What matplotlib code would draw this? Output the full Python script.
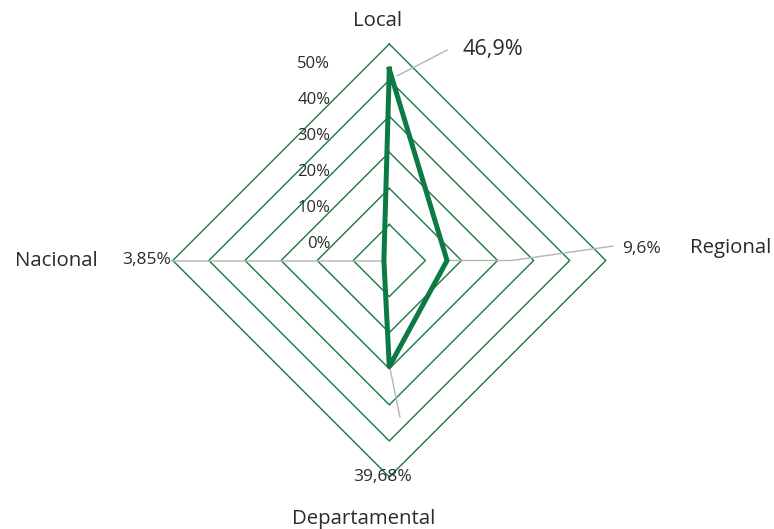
import numpy as np
import matplotlib
matplotlib.use("Agg")
import matplotlib.pyplot as plt
from matplotlib.text import OffsetFrom

# ---- data ----
categories = ["Local", "Regional", "Departamental", "Nacional"]
values = [43.0, 6.0, 19.4, -8.5]          # plotted positions on the radial axis (%)
value_labels = ["46,9%", "9,6%", "39,68%", "3,85%"]
rticks = [0, 10, 20, 30, 40, 50]
rtick_labels = ["0%", "10%", "20%", "30%", "40%", "50%"]
r_min, r_max = -10, 50

plt.rcParams['font.family'] = ['Open Sans', 'DejaVu Sans']
TXT = '#2b2b2b'
GREEN_GRID = '#17793f'
GREEN_LINE = '#0b7a45'
LEADER = '#b4b4b4'

W, H = 774, 529
fig = plt.figure(figsize=(W / 100, H / 100), dpi=100)
fig.patch.set_facecolor('white')

cx, cy, R = 389.3, 260.5, 216.5
ax = fig.add_axes([(cx - R) / W, (H - cy - R) / H, 2 * R / W, 2 * R / H], projection='polar')
ax.set_theta_zero_location('N')
ax.set_theta_direction(-1)
ax.set_rlim(r_min, r_max)
ax.grid(False)
ax.set_xticks([])
ax.set_yticks([])
ax.spines['polar'].set_visible(False)
ax.patch.set_alpha(0)

n = len(categories)
theta = np.arange(n) * 2 * np.pi / n
theta_c = np.append(theta, theta[0])

# diamond gridlines
for t in rticks:
    ax.plot(theta_c, [t] * (n + 1), color=GREEN_GRID, lw=1.0, zorder=1, clip_on=False)

# tick labels
for t, lab in zip(rticks, rtick_labels):
    ax.annotate(lab, xy=(0, t), xytext=(-59, -20), textcoords='offset pixels',
                ha='right', va='center', fontsize=12, color=TXT, annotation_clip=False)

# data line
vals_c = values + [values[0]]
ax.plot(theta_c, vals_c, color=GREEN_LINE, lw=3.6, zorder=4, solid_joinstyle='round', clip_on=False)

# leader lines (pixel offsets relative to each data point)
leaders = {
    0: [((58, 19.3), (7.7, -6.7))],
    1: [((166.3, 14.5), (64.7, 0)), ((64.7, 0), (1.3, 0))],
    2: [((10.7, -50.7), (0.7, -1.7))],
    3: [((-212.9, -0.5), (1.1, -0.5))],
}
label_offsets = {0: (103.7, 19.3), 1: (194, 11.5), 2: (-6.3, -110.1), 3: (-237.4, 0.5)}
label_sizes = {0: 15.6, 1: 12.5, 2: 12.5, 3: 12.5}

for i in range(n):
    ref = OffsetFrom(ax.transData, (theta[i], values[i]), unit='pixels')
    for a, b in leaders[i]:
        ax.annotate('', xy=b, xycoords=ref, xytext=a, textcoords=ref,
                    arrowprops=dict(arrowstyle='-', color=LEADER, lw=1.0,
                                    shrinkA=0, shrinkB=0), zorder=2, annotation_clip=False)
    ax.annotate(value_labels[i], xy=label_offsets[i], xycoords=ref, ha='center', va='center',
                fontsize=label_sizes[i], color=TXT, annotation_clip=False)

# category labels
cat_pos = {0: (378, 21), 1: (731, 248.3), 2: (364, 519), 3: (56, 260.7)}
for i, c in enumerate(categories):
    x, y = cat_pos[i]
    fig.text(x / W, 1 - y / H, c, ha='center', va='center', fontsize=14.7, color=TXT)

fig.savefig('out.png', dpi=100)
